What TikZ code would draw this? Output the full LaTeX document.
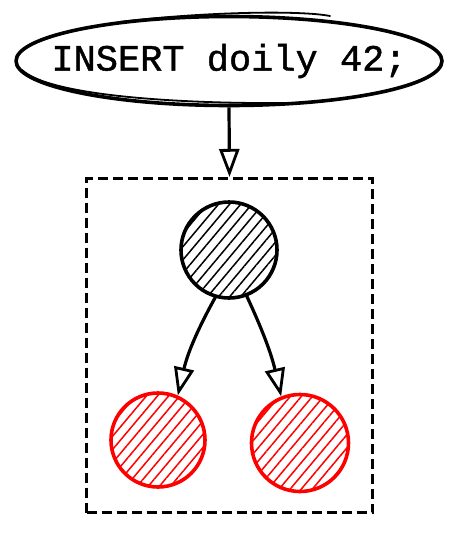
\documentclass[tikz,border=0pt]{standalone}
\usepackage{fontspec}
\newfontfamily\codefont[FakeBold=1.2]{Liberation Mono}
\usetikzlibrary{shapes.geometric,arrows.meta,patterns.meta}
\begin{document}
\begin{tikzpicture}[x=1pt,y=-1pt,
  sketch/.style={line width=3.6pt, line cap=round, line join=round},
  hatchblack/.style={sketch, draw=black, circle, inner sep=0pt,
    pattern={Lines[angle=50,distance=8.5pt,line width=1.5pt]}, pattern color=black},
  hatchred/.style={sketch, draw=red, circle, inner sep=0pt,
    pattern={Lines[angle=50,distance=8.5pt,line width=1.5pt]}, pattern color=red},
  link/.style={line width=3.2pt, -{Triangle[open,length=28pt,width=20pt,line width=2.8pt]}},
]
\useasboundingbox (0,0) rectangle (458,544);
\node[ellipse, sketch, draw, minimum width=426pt, minimum height=89pt, inner sep=0pt,
  font=\codefont\fontsize{37}{40}\selectfont] (query) at (229,61) {\makebox[0pt]{INSERT doily 42;}};
\draw[line width=1.8pt, line cap=round] (22,70) .. controls (50,96) and (180,104) .. (290,103);
\draw[line width=1.8pt, line cap=round] (120,22) .. controls (200,12) and (300,10) .. (330,16);
\node[draw, line width=3.1pt, dash pattern=on 10pt off 5pt, minimum width=286pt, minimum height=334pt, inner sep=0pt] (box) at (229.5,345.5) {};
\node[hatchblack, minimum size=96pt] (root) at (229,250) {};
\node[hatchred, minimum size=94pt] (left) at (158,440) {};
\node[hatchred, minimum size=97pt] (right) at (300,443) {};
\draw[link] (query.south) -- (box.north);
\draw[link] (root.-106) to[bend right=8] (left.66);
\draw[link] (root.-69) to[bend left=6] (right.112);
\end{tikzpicture}
\end{document}
